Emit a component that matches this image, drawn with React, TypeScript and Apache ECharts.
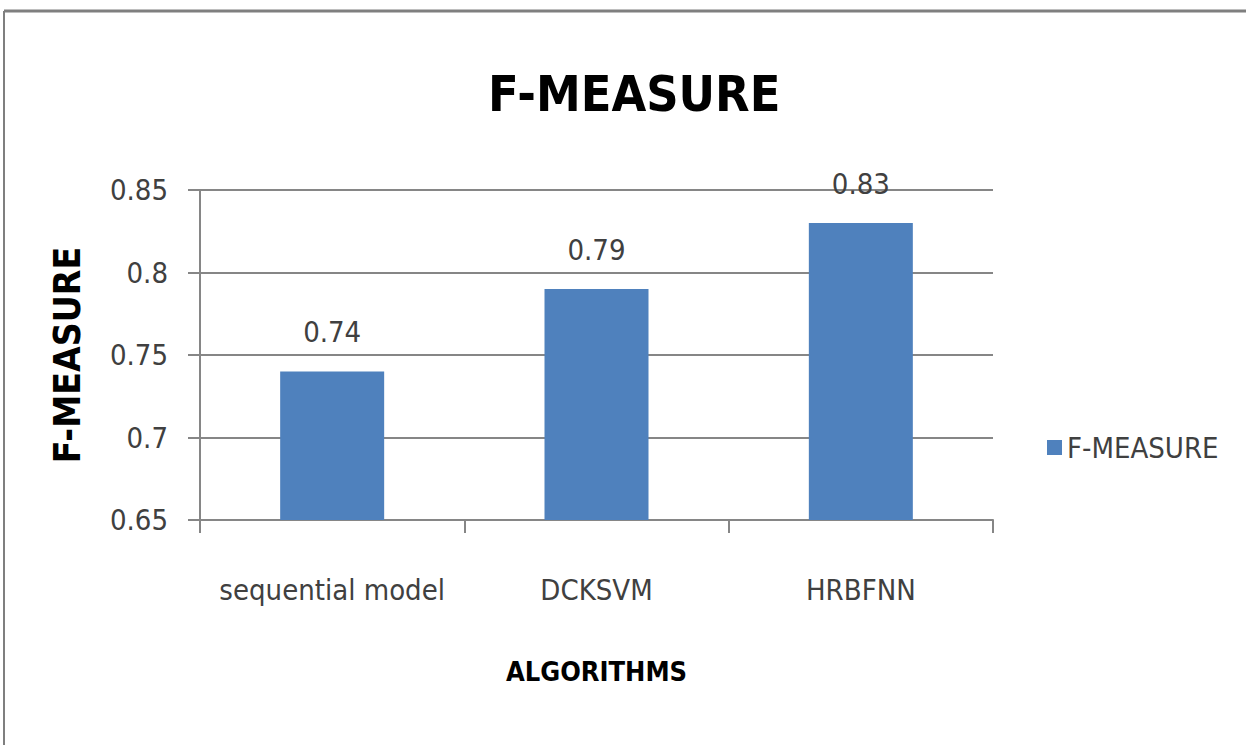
import React, { useEffect, useRef } from "react";
import * as echarts from "echarts";

const categories = ["sequential model", "DCKSVM", "HRBFNN"];
const fMeasure = [0.74, 0.79, 0.83];
const seriesName = "F-MEASURE";
const chartTitle = "F-MEASURE";
const yAxisName = "F-MEASURE";
const xAxisName = "ALGORITHMS";

const FONT = "'DejaVu Sans Condensed', 'DejaVu Sans', sans-serif";

export default function App() {
  const ref = useRef<HTMLDivElement>(null);
  useEffect(() => {
    if (!ref.current) return;
    const chart = echarts.init(ref.current, null, { renderer: "svg" });
    chart.setOption({
      animation: false,
      backgroundColor: "#ffffff",
      title: {
        text: chartTitle,
        left: 483,
        top: 64,
        textStyle: { fontFamily: FONT, fontSize: 50, fontWeight: "bold", color: "#000000" },
      },
      legend: {
        orient: "vertical",
        left: 1042,
        top: 428,
        icon: "rect",
        itemWidth: 15,
        itemHeight: 15,
        itemGap: 8,
        textStyle: { fontFamily: FONT, fontSize: 29, color: "#404040" },
        data: [seriesName],
      },
      grid: { left: 200, right: 253, top: 190, bottom: 225, containLabel: false },
      xAxis: {
        type: "category",
        data: categories,
        name: xAxisName,
        nameLocation: "middle",
        nameGap: 138,
        nameTextStyle: { fontFamily: FONT, fontSize: 27, fontWeight: "bold", color: "#000000" },
        axisLine: { show: true, lineStyle: { color: "#868686", width: 2 } },
        axisTick: { show: true, length: 13, lineStyle: { color: "#868686", width: 2 } },
        axisLabel: { interval: 0, fontFamily: FONT, fontSize: 29, color: "#404040", margin: 55 },
      },
      yAxis: {
        type: "value",
        min: 0.65,
        max: 0.85,
        interval: 0.05,
        name: yAxisName,
        nameLocation: "middle",
        nameGap: 114,
        nameTextStyle: { fontFamily: FONT, fontSize: 37, fontWeight: "bold", color: "#000000" },
        axisLine: { show: true, lineStyle: { color: "#868686", width: 2 } },
        axisTick: { show: true, length: 12, lineStyle: { color: "#868686", width: 2 } },
        axisLabel: { fontFamily: FONT, fontSize: 29, color: "#404040", margin: 32 },
        splitLine: { show: true, lineStyle: { color: "#868686", width: 2 } },
      },
      series: [
        {
          name: seriesName,
          type: "bar",
          data: fMeasure,
          barWidth: 104,
          itemStyle: { color: "#4F81BD" },
          label: {
            show: true,
            position: "top",
            distance: 25,
            fontFamily: FONT,
            fontSize: 29,
            color: "#404040",
          },
        },
      ],
      graphic: [
        { type: "line", shape: { x1: 4, y1: 11, x2: 1246, y2: 11 }, style: { stroke: "#7f7f7f", lineWidth: 3 } },
        { type: "line", shape: { x1: 4, y1: 11, x2: 4, y2: 745 }, style: { stroke: "#7f7f7f", lineWidth: 2 } },
      ],
    });
    return () => chart.dispose();
  }, []);
  return (
    <div
      ref={ref}
      style={{ position: "fixed", left: 0, top: 0, width: 1246, height: 745, background: "#fff" }}
    />
  );
}
